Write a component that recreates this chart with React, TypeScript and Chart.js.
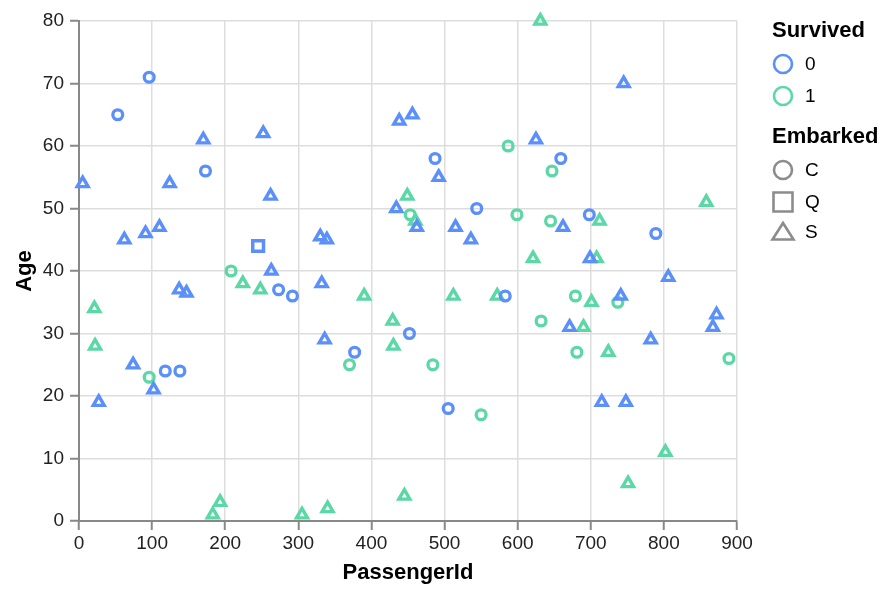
import React, { useEffect, useRef } from 'react';
import { Chart, registerables } from 'chart.js';

Chart.register(...registerables);

// Survived = 0
const died_C_ids = [96, 53, 173, 118, 138, 273, 292, 377, 452, 487, 544, 505, 583, 659, 698, 789];
const died_C_ages = [71, 65, 56, 24, 24, 37, 36, 27, 30, 58, 50, 18, 36, 58, 49, 46];
const died_Q_ids = [245];
const died_Q_ages = [44];
const died_S_ids = [5, 27, 62, 74, 91, 102, 110, 124, 137, 147, 170, 252, 262, 263, 330, 339, 332, 336, 438, 456, 434, 492, 462, 515, 536, 625, 745, 662, 699, 671, 741, 782, 806, 872, 867, 715, 748];
const died_S_ages = [54, 19, 45, 25, 46, 21, 47, 54, 37, 36.5, 61, 62, 52, 40, 45.5, 45, 38, 29, 64, 65, 50, 55, 47, 47, 45, 61, 70, 47, 42, 31, 36, 29, 39, 33, 31, 19, 19];
// Survived = 1
const lived_C_ids = [208, 96, 587, 453, 599, 647, 645, 370, 484, 550, 679, 737, 632, 681, 889];
const lived_C_ages = [40, 23, 60, 49, 49, 56, 48, 25, 25, 17, 36, 35, 32, 27, 26];
const lived_S_ids = [21, 22, 224, 248, 193, 183, 305, 390, 512, 572, 429, 430, 449, 460, 445, 340, 621, 631, 858, 712, 708, 701, 690, 724, 802, 751];
const lived_S_ages = [34, 28, 38, 37, 3, 1, 1, 36, 36, 36, 32, 28, 52, 48, 4, 2, 42, 80, 51, 48, 42, 35, 31, 27, 11, 6];

const survivedLabels = ['0', '1'];
const embarkedLabels = ['C', 'Q', 'S'];
const xTicks = [0, 100, 200, 300, 400, 500, 600, 700, 800, 900];
const yTicks = [0, 10, 20, 30, 40, 50, 60, 70, 80];

const BLUE = '#5B8FF9';
const GREEN = '#5AD8A6';
const GRAY = '#8c8c8c';
const FONT = '"Liberation Sans", Arial, Helvetica, sans-serif';

const shapeStyle: Record<string, { style: string; radius: number; width: number }> = {
  C: { style: 'circle', radius: 4.9, width: 3.3 },
  Q: { style: 'rect', radius: 7.6, width: 3.5 },
  S: { style: 'triangle', radius: 6.3, width: 3.4 },
};

function makeDataset(label: string, ids: number[], ages: number[], color: string, emb: string) {
  const s = shapeStyle[emb];
  return {
    label,
    data: ids.map((x, i) => ({ x, y: ages[i] })),
    pointStyle: s.style,
    pointRadius: s.radius,
    pointHoverRadius: s.radius,
    borderColor: color,
    backgroundColor: 'rgba(0,0,0,0)',
    pointBorderWidth: s.width,
    borderWidth: s.width,
    clip: false,
  };
}

const legendPlugin = {
  id: 'customLegend',
  afterDraw(chart: any) {
    const ctx = chart.ctx as CanvasRenderingContext2D;
    ctx.save();
    const lx = 772;
    const sx = 783;
    const tx = 805;
    ctx.textBaseline = 'middle';
    ctx.textAlign = 'left';
    ctx.fillStyle = '#000';
    ctx.font = `bold 22px ${FONT}`;
    ctx.fillText('Survived', lx, 31);
    ctx.fillText('Embarked', lx, 137);
    ctx.font = `19px ${FONT}`;
    ctx.lineWidth = 2.6;
    const survColors = [BLUE, GREEN];
    const survY = [64, 96];
    survivedLabels.forEach((lab, i) => {
      ctx.strokeStyle = survColors[i];
      ctx.beginPath();
      ctx.arc(sx, survY[i], 9, 0, Math.PI * 2);
      ctx.stroke();
      ctx.fillStyle = '#000';
      ctx.fillText(lab, tx, survY[i] + 1);
    });
    const embY = [170, 202, 232];
    embarkedLabels.forEach((lab, i) => {
      const y = embY[i];
      ctx.strokeStyle = GRAY;
      ctx.beginPath();
      if (lab === 'C') {
        ctx.arc(sx, y, 9, 0, Math.PI * 2);
      } else if (lab === 'Q') {
        ctx.rect(sx - 9.5, y - 9.5, 19, 19);
      } else {
        ctx.moveTo(sx, y - 9);
        ctx.lineTo(sx + 10.5, y + 7.5);
        ctx.lineTo(sx - 10.5, y + 7.5);
        ctx.closePath();
      }
      ctx.stroke();
      ctx.fillStyle = '#000';
      ctx.fillText(lab, tx, y + 1);
    });
    ctx.restore();
  },
};

export default function App() {
  const ref = useRef<HTMLCanvasElement>(null);
  useEffect(() => {
    if (!ref.current) return;
    const chart = new Chart(ref.current, {
      type: 'scatter',
      data: {
        datasets: [
          makeDataset('0 C', died_C_ids, died_C_ages, BLUE, 'C'),
          makeDataset('0 Q', died_Q_ids, died_Q_ages, BLUE, 'Q'),
          makeDataset('0 S', died_S_ids, died_S_ages, BLUE, 'S'),
          makeDataset('1 C', lived_C_ids, lived_C_ages, GREEN, 'C'),
          makeDataset('1 S', lived_S_ids, lived_S_ages, GREEN, 'S'),
        ] as any,
      },
      options: {
        animation: false,
        responsive: false,
        maintainAspectRatio: false,
        devicePixelRatio: 1,
        layout: { padding: { left: 11, right: 153, top: 21, bottom: 7 } },
        plugins: {
          legend: { display: false },
          tooltip: { enabled: false },
        },
        scales: {
          x: {
            type: 'linear',
            min: 0,
            max: 900,
            afterBuildTicks: (s: any) => {
              s.ticks = xTicks.map((v) => ({ value: v }));
            },
            afterFit: (s: any) => {
              s.height = 66;
            },
            ticks: {
              stepSize: 100,
              padding: 2,
              color: '#222',
              font: { family: FONT, size: 19 },
              maxRotation: 0,
            },
            grid: { color: '#dddddd', lineWidth: 1.5, tickColor: '#888', tickLength: 9, tickWidth: 2 },
            border: { color: '#888', width: 2 },
            title: {
              display: true,
              text: 'PassengerId',
              color: '#000',
              font: { family: FONT, size: 22, weight: 'bold' },
              padding: { top: 0, bottom: 1 },
            },
          },
          y: {
            type: 'linear',
            min: 0,
            max: 80,
            afterBuildTicks: (s: any) => {
              s.ticks = yTicks.map((v) => ({ value: v }));
            },
            afterFit: (s: any) => {
              s.width = 68;
            },
            ticks: {
              stepSize: 10,
              padding: 6,
              color: '#222',
              font: { family: FONT, size: 19 },
            },
            grid: { color: '#dddddd', lineWidth: 1.5, tickColor: '#888', tickLength: 9, tickWidth: 2 },
            border: { color: '#888', width: 2 },
            title: {
              display: true,
              text: 'Age',
              color: '#000',
              font: { family: FONT, size: 22, weight: 'bold' },
              padding: { top: 1, bottom: 0 },
            },
          },
        },
      },
      plugins: [legendPlugin],
    });
    return () => chart.destroy();
  }, []);
  return (
    <div style={{ position: 'absolute', left: 0, top: 0, width: 890, height: 594, background: '#fff' }}>
      <canvas ref={ref} width={890} height={594} style={{ display: 'block', width: 890, height: 594 }} />
    </div>
  );
}
